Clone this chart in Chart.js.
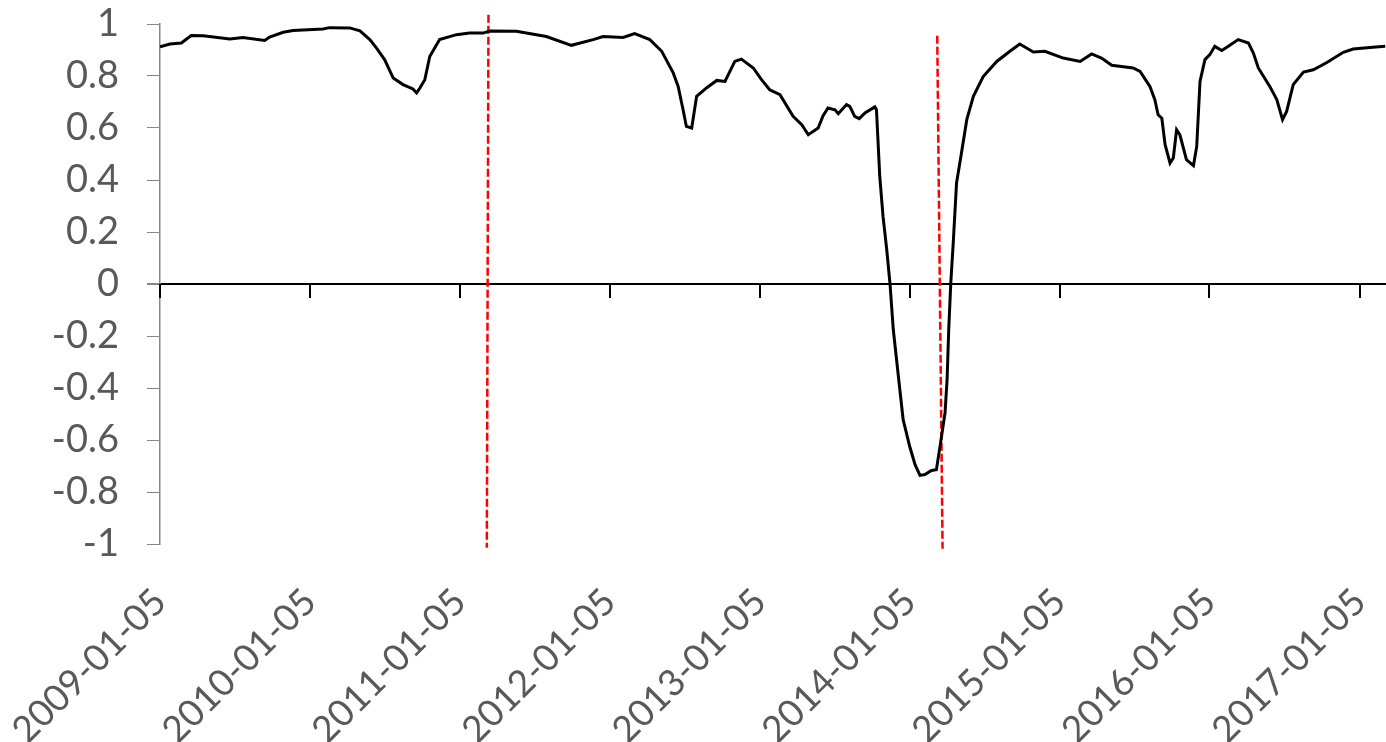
<!DOCTYPE html>
<html>
<head>
<meta charset="utf-8">
<script src="https://cdn.jsdelivr.net/npm/chart.js@4.4.1/dist/chart.umd.min.js"></script>
<style>
  html, body { margin: 0; padding: 0; background: #fff; }
  #wrap { width: 1386px; height: 742px; position: relative; }
</style>
</head>
<body>
<div id="wrap"><canvas id="chart"></canvas></div>
<script>
// x values are days counted from the first date
const startDate = '2009-01-05';
const tickDates = ['2009-01-05', '2010-01-05', '2011-01-05', '2012-01-05', '2013-01-05',
                   '2014-01-05', '2015-01-05', '2016-01-05', '2017-01-05'];
const yTicks = [1, 0.8, 0.6, 0.4, 0.2, 0, -0.2, -0.4, -0.6, -0.8, -1];

const days = [
    0, 24, 52, 76, 105, 170, 202, 255, 267, 300, 324, 397, 413, 462, 487, 511, 527, 547,
    568, 592, 616, 625, 633, 645, 657, 681, 722, 754, 787, 803, 868, 941, 1002, 1055,
    1079, 1128, 1156, 1193, 1222, 1250, 1262, 1274, 1282, 1295, 1307, 1331, 1356, 1376,
    1400, 1416, 1445, 1465, 1485, 1510, 1542, 1563, 1579, 1603, 1615, 1627, 1644, 1652,
    1672, 1680, 1692, 1703, 1717, 1741, 1745, 1753, 1761, 1770, 1778, 1786, 1802, 1810,
    1826, 1839, 1851, 1863, 1879, 1891, 1901, 1912, 1917, 1921, 1926, 1932, 1940, 1952,
    1965, 1981, 2005, 2038, 2070, 2094, 2127, 2155, 2200, 2241, 2269, 2293, 2318, 2370,
    2387, 2411, 2423, 2431, 2440, 2448, 2460, 2468, 2476, 2484, 2500, 2517, 2525, 2533,
    2545, 2557, 2569, 2586, 2602, 2626, 2651, 2663, 2675, 2703, 2720, 2734, 2744, 2760,
    2785, 2809, 2842, 2882, 2906, 2947, 2984
];
const values = [
    0.912, 0.923, 0.927, 0.956, 0.955, 0.942, 0.948, 0.937, 0.950, 0.968, 0.975, 0.981,
    0.986, 0.985, 0.974, 0.940, 0.908, 0.863, 0.792, 0.767, 0.750, 0.735, 0.754, 0.786,
    0.875, 0.940, 0.959, 0.965, 0.965, 0.973, 0.972, 0.952, 0.918, 0.940, 0.952, 0.948,
    0.963, 0.940, 0.895, 0.812, 0.760, 0.670, 0.606, 0.600, 0.722, 0.754, 0.783, 0.779,
    0.856, 0.865, 0.831, 0.786, 0.747, 0.728, 0.645, 0.613, 0.574, 0.600, 0.647, 0.677,
    0.670, 0.655, 0.690, 0.683, 0.645, 0.636, 0.658, 0.681, 0.670, 0.414, 0.260, 0.132,
    0.000, -0.176, -0.407, -0.522, -0.625, -0.695, -0.736, -0.733, -0.717, -0.714, -0.612,
    -0.496, -0.368, -0.176, 0.004, 0.158, 0.388, 0.504, 0.632, 0.722, 0.798, 0.856,
    0.895, 0.923, 0.892, 0.895, 0.869, 0.856, 0.885, 0.869, 0.841, 0.831, 0.818, 0.760,
    0.709, 0.651, 0.638, 0.536, 0.465, 0.485, 0.593, 0.574, 0.478, 0.455, 0.529, 0.779,
    0.863, 0.882, 0.914, 0.898, 0.914, 0.940, 0.927, 0.888, 0.831, 0.760, 0.709, 0.632,
    0.664, 0.767, 0.815, 0.824, 0.852, 0.891, 0.904, 0.910, 0.914
];

// red dashed markers: [top, bottom] ends of each line
const markerDays = [[800, 796], [1893, 1906]];
const markerLevels = [[1.036, -1.014], [0.955, -1.018]];

const xMax = 2986;
const textGray = '#595959';

function dayOf(s) {
    return Math.round((Date.parse(s) - Date.parse(startDate)) / 86400000);
}
const tickDays = tickDates.map(dayOf);

const datasets = [{
    data: days.map((d, i) => ({ x: d, y: values[i] })),
    borderColor: '#000',
    borderWidth: 3,
    pointRadius: 0,
    tension: 0
}];
markerDays.forEach((m, i) => {
    datasets.push({
        data: m.map((d, j) => ({ x: d, y: markerLevels[i][j] })),
        borderColor: '#ff0000',
        borderWidth: 2.5,
        borderDash: [8, 3],
        pointRadius: 0,
        clip: false
    });
});

// tick marks hanging below the zero line
const zeroTicks = {
    id: 'zeroTicks',
    afterDatasetsDraw(chart) {
        const { ctx, scales: { x, y } } = chart;
        const y0 = y.getPixelForValue(0);
        ctx.save();
        ctx.strokeStyle = '#000';
        ctx.lineWidth = 2;
        tickDays.forEach(d => {
            const px = Math.round(x.getPixelForValue(d));
            ctx.beginPath();
            ctx.moveTo(px, y0);
            ctx.lineTo(px, y0 + 14);
            ctx.stroke();
        });
        ctx.restore();
    }
};

new Chart(document.getElementById('chart'), {
    type: 'line',
    data: { datasets },
    plugins: [zeroTicks],
    options: {
        responsive: true,
        maintainAspectRatio: false,
        animation: false,
        layout: { padding: { top: 24, right: 0, left: 0, bottom: 0 } },
        plugins: { legend: { display: false }, tooltip: { enabled: false } },
        scales: {
            x: {
                type: 'linear',
                min: 0,
                max: xMax,
                afterBuildTicks: s => { s.ticks = tickDays.map(v => ({ value: v })); },
                afterFit: s => {
                    s.height = 198;
                    s.paddingLeft = 0;
                    s.paddingRight = 0;
                },
                border: { display: false },
                grid: { display: false },
                ticks: {
                    autoSkip: false,
                    minRotation: 45,
                    maxRotation: 45,
                    padding: 28,
                    color: textGray,
                    font: { family: 'Lato', size: 37 },
                    callback: (v, i) => tickDates[i]
                }
            },
            y: {
                min: -1,
                max: 1,
                afterBuildTicks: s => { s.ticks = yTicks.map(v => ({ value: v })); },
                afterFit: s => {
                    s.width = 160;
                    s.paddingTop = 0;
                    s.paddingBottom = 0;
                },
                border: { display: true, color: '#868686', width: 1.5 },
                grid: {
                    drawOnChartArea: true,
                    color: c => (c.tick && c.tick.value === 0) ? '#000' : 'rgba(0,0,0,0)',
                    lineWidth: c => (c.tick && c.tick.value === 0) ? 2 : 1,
                    tickColor: '#868686',
                    tickLength: 13
                },
                ticks: {
                    autoSkip: false,
                    padding: 28,
                    color: textGray,
                    font: { family: 'Lato', size: 38 },
                    callback: v => String(Math.round(v * 10) / 10)
                }
            }
        }
    }
});
</script>
</body>
</html>
